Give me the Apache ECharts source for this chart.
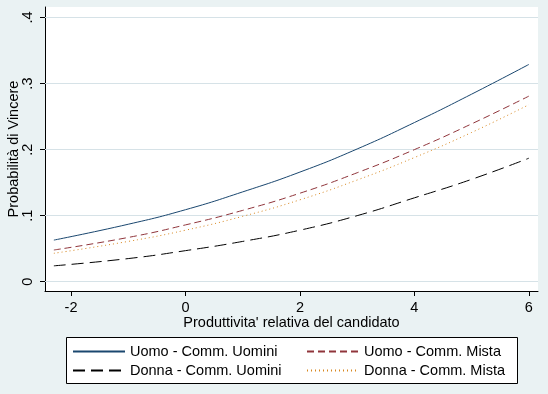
<!DOCTYPE html>
<html>
<head>
<meta charset="utf-8">
<script src="https://cdn.jsdelivr.net/npm/echarts@6/dist/echarts.min.js"></script>
<style>html,body{margin:0;padding:0;background:#EAF2F3;}#c{width:548px;height:394px;}</style>
</head>
<body>
<div id="c"></div>
<script>
const xValues = [-2.3, -1, 0, 1, 2, 3, 4, 5, 6];
const uomoCommUomini = [0.063, 0.087, 0.109, 0.136, 0.166, 0.201, 0.241, 0.284, 0.329];
const uomoCommMista = [0.048, 0.067, 0.086, 0.108, 0.134, 0.165, 0.200, 0.239, 0.281];
const donnaCommUomini = [0.024, 0.035, 0.047, 0.061, 0.078, 0.100, 0.127, 0.155, 0.187];
const donnaCommMista = [0.043, 0.061, 0.078, 0.099, 0.124, 0.154, 0.188, 0.226, 0.268];
const seriesNames = ['Uomo - Comm. Uomini', 'Uomo - Comm. Mista', 'Donna - Comm. Uomini', 'Donna - Comm. Mista'];
const xTicks = [-2, 0, 2, 4, 6];
const yTicks = [0, 0.1, 0.2, 0.3, 0.4];
const xTitle = "Produttivita' relativa del candidato";
const yTitle = 'Probabilità di Vincere';

const FONT = '"Liberation Sans", Arial, sans-serif';
const pairs = arr => xValues.map((x, i) => [x, arr[i]]);
const styles = [
  {color: '#1A476F', type: 'solid'},
  {color: '#90353B', type: [7, 4]},
  {color: '#000000', type: [12, 6]},
  {color: '#D8871F', type: [1, 3]}
];
const allData = [uomoCommUomini, uomoCommMista, donnaCommUomini, donnaCommMista];

const series = allData.map((d, i) => ({
  name: seriesNames[i],
  type: 'line',
  data: pairs(d),
  smooth: true,
  showSymbol: false,
  symbol: 'none',
  silent: true,
  z: 3,
  lineStyle: {color: styles[i].color, width: 1, type: styles[i].type},
  itemStyle: {color: styles[i].color}
}));
series.unshift({
  type: 'line', data: [], silent: true, z: 2,
  markLine: {
    silent: true, symbol: 'none', label: {show: false}, z: 2,
    lineStyle: {color: '#D6E2E7', width: 1, type: 'solid'},
    emphasis: {disabled: true},
    data: yTicks.map(v => ({yAxis: v}))
  }
});

const legendPos = [
  {left: 72, top: 344}, {left: 306, top: 344},
  {left: 72, top: 363}, {left: 306, top: 363}
];
const legends = seriesNames.map((n, i) => ({
  data: [n], left: legendPos[i].left, top: legendPos[i].top,
  orient: 'horizontal', padding: 0, itemWidth: 52, itemHeight: 14, itemGap: 0,
  selectedMode: false,
  itemStyle: {opacity: 0, color: 'transparent', borderWidth: 0},
  textStyle: {fontFamily: FONT, fontSize: 14.5, color: '#000'}
}));

const chart = echarts.init(document.getElementById('c'));
chart.setOption({
  animation: false,
  backgroundColor: '#EAF2F3',
  textStyle: {fontFamily: FONT},
  grid: {left: 45, top: 7, width: 493, height: 284, show: false, containLabel: false, outerBoundsMode: 'none'},
  graphic: [{
    type: 'rect', z: -10, silent: true,
    shape: {x: 45, y: 7, width: 493, height: 284},
    style: {fill: '#ffffff', lineWidth: 0}
  }, {
    type: 'rect', z: -10, silent: true,
    shape: {x: 66.5, y: 337.5, width: 451, height: 46},
    style: {fill: '#ffffff', stroke: '#000000', lineWidth: 1}
  }],
  legend: legends,
  xAxis: {
    type: 'value', min: -2.455, max: 6.16,
    name: xTitle, nameLocation: 'middle', nameGap: 24, nameMoveOverlap: false,
    nameTextStyle: {fontFamily: FONT, fontSize: 14.5, color: '#000'},
    axisLine: {show: true, onZero: false, lineStyle: {color: '#000', width: 1}},
    axisTick: {show: true, length: 5, lineStyle: {color: '#000'}, customValues: xTicks},
    axisLabel: {customValues: xTicks, margin: 9, fontFamily: FONT, fontSize: 14.5, color: '#000'},
    splitLine: {show: false}
  },
  yAxis: {
    type: 'value', min: -0.0141, max: 0.416,
    name: yTitle, nameLocation: 'middle', nameGap: 24, nameMoveOverlap: false,
    nameTextStyle: {fontFamily: FONT, fontSize: 14.5, color: '#000'},
    axisLine: {show: true, onZero: false, lineStyle: {color: '#000', width: 1}},
    axisTick: {show: true, length: 5, lineStyle: {color: '#000'}, customValues: yTicks},
    axisLabel: {
      customValues: yTicks, rotate: 90, margin: 10, fontFamily: FONT, fontSize: 14.5, color: '#000',
      formatter: v => v === 0 ? '0' : String(Math.round(v * 10) / 10).replace(/^0/, '')
    },
    splitLine: {show: false}
  },
  series: series
});
</script>
</body>
</html>
